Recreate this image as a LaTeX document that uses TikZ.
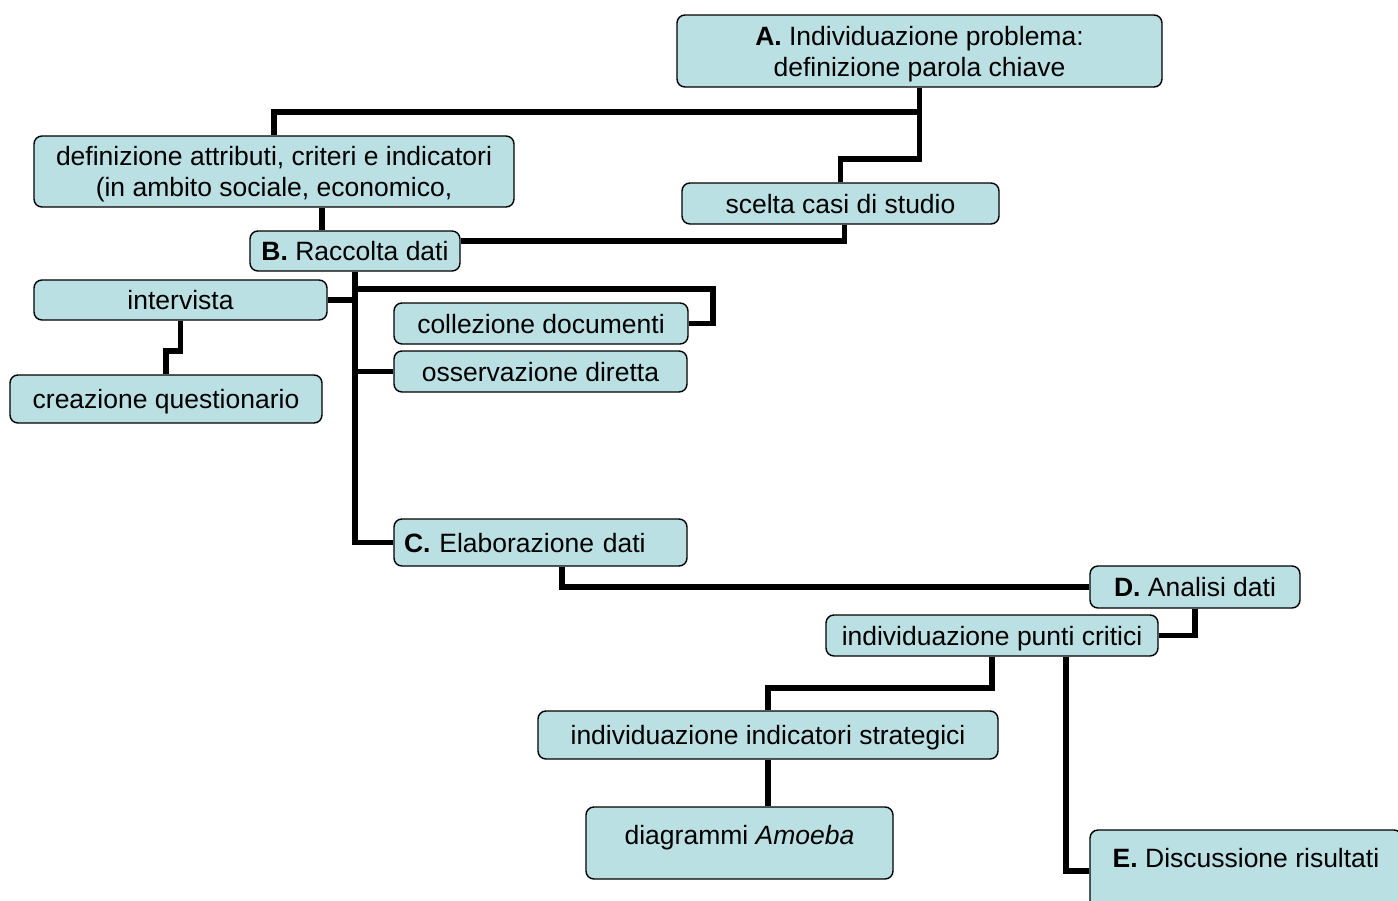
\documentclass[tikz,border=0pt]{standalone}
\usepackage{fontspec}
\setmainfont{Liberation Sans}
\usetikzlibrary{positioning}
\definecolor{boxfill}{RGB}{187,224,227}
\tikzset{
 phasebox/.style={draw=black, line width=0.7pt, fill=boxfill, rounded corners=4pt,
   inner xsep=5pt, inner ysep=0pt, align=center, text depth=0pt,
   font=\fontsize{13.25pt}{15.5pt}\selectfont},
 wire/.style={line width=2.8pt, line join=miter}
}
\begin{document}
\begin{tikzpicture}[x=0.5pt,y=-0.5pt]
\useasboundingbox (0,0) rectangle (1398,900);
% fasi
\node[phasebox, minimum width=242.5pt, minimum height=36pt] (probl) at (919.5,51) {\textbf{A.} Individuazione problema:\\definizione parola chiave};
\node[phasebox, minimum width=240pt, minimum height=35.5pt] (attr) at (274,171.5) {definizione attributi, criteri e indicatori\\(in ambito sociale, economico,};
\node[phasebox, minimum width=158.5pt, minimum height=20.5pt] (casi) at (840.5,203.5) {scelta casi di studio};
\node[phasebox, minimum width=105pt, minimum height=20pt] (raccolta) at (355,251) {\textbf{B.} Raccolta dati};
\node[phasebox, minimum width=146.5pt, minimum height=20pt] (interv) at (180.5,300) {intervista};
\node[phasebox, minimum width=147pt, minimum height=20.5pt] (docum) at (541,323.5) {collezione documenti};
\node[phasebox, minimum width=146.5pt, minimum height=20.5pt] (osserv) at (540.5,371.5) {osservazione diretta};
\node[phasebox, minimum width=156pt, minimum height=24pt] (quest) at (166,399) {creazione questionario};
\node[phasebox, text width=136.5pt, align=left, minimum height=23.5pt] (elab) at (540.5,542.5) {\textbf{C.} Elaborazione dati};
\node[phasebox, minimum width=105pt, minimum height=21pt] (analisi) at (1195,587) {\textbf{D.} Analisi dati};
\node[phasebox, minimum width=166pt, minimum height=20.5pt] (critici) at (992,635.5) {individuazione punti critici};
\node[phasebox, minimum width=230pt, minimum height=24pt] (strat) at (768,735) {individuazione indicatori strategici};
\node[phasebox, minimum width=153.5pt, minimum height=36pt, text depth=8pt] (amoeba) at (739.5,843) {diagrammi \textit{Amoeba}};
\node[phasebox, minimum width=156pt, minimum height=41pt, text depth=13pt] (discuss) at (1246,871) {\textbf{E.} Discussione risultati};
% collegamenti
\draw[wire] (probl.south) -- ++(0,24) -| (attr.north);
\draw[wire] (probl.south) -- ++(0,71) -| (casi.north);
\draw[wire] (attr.south) ++(48,0) coordinate (a1) -- (a1 |- raccolta.north);
\draw[wire] (casi.south) ++(4,0) -- ++(0,16) coordinate (c1) -- (c1 -| raccolta.east);
\draw[wire] (raccolta.south) |- (elab.west);
\draw[wire] (interv.east) -- (interv.east -| raccolta.south);
\draw[wire] (raccolta.south) -- ++(0,17) -| ([xshift=12pt]docum.east) -- (docum.east);
\draw[wire] (osserv.west -| raccolta.south) -- (osserv.west);
\draw[wire] (interv.south) -- ++(0,30) -| (quest.north);
\draw[wire] (elab.south) ++(21.5,0) |- (analisi.west);
\draw[wire] (analisi.south) |- (critici.east);
\draw[wire] (critici.south) -- ++(0,31) -| (strat.north);
\draw[wire] (critici.south) ++(74,0) |- (discuss.west);
\draw[wire] (strat.south) -- (strat.south |- amoeba.north);
\end{tikzpicture}
\end{document}
